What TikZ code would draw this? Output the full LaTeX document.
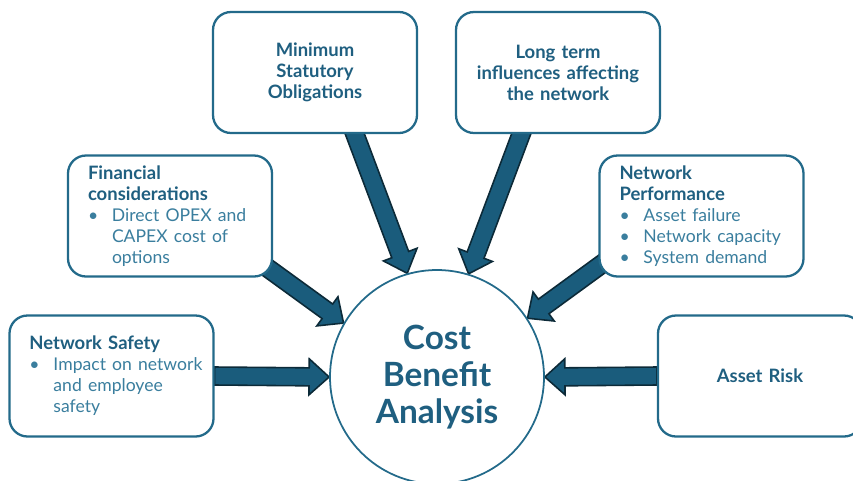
\documentclass[tikz,border=0pt]{standalone}
\usepackage{fontspec}
\setmainfont{Lato}
\usepackage{tikz}
\usetikzlibrary{positioning,calc,backgrounds}

\definecolor{boxline}{HTML}{236A8A}
\definecolor{headtext}{HTML}{1F5F80}
\definecolor{itemtext}{HTML}{3A7E9E}
\definecolor{arrowfill}{HTML}{1A5C7C}
\definecolor{arrowline}{HTML}{0C2A38}

\tikzset{
    factor/.style={draw=boxline, line width=1.3pt, rounded corners=0.36cm, fill=white,
        minimum width=4.08cm, minimum height=2.42cm, inner xsep=0.4cm, inner ysep=0.15cm,
        text width=3.28cm, font=\fontsize{10.5}{12}\selectfont\bfseries, text=headtext},
    bigarrow/.style={fill=arrowfill, draw=arrowline, line width=0.9pt}
}

% bullet line and its indented continuation
\newcommand{\bul}[1]{\mbox{\mdseries\fontsize{10}{12}\selectfont\color{itemtext}\makebox[0.48cm][l]{\textbullet}#1}}
\newcommand{\cont}[1]{\mbox{\mdseries\fontsize{10}{12}\selectfont\color{itemtext}\hspace*{0.48cm}#1}}

% block arrow from #1 to #2
\newcommand{\fatarrow}[2]{%
    \coordinate (hb) at ($(#2)!0.4cm!(#1)$);
    \draw[bigarrow] ($(#1)!0.18cm!90:(#2)$) -- ($(hb)!0.18cm!90:(#2)$) -- ($(hb)!0.36cm!90:(#2)$)
        -- (#2) -- ($(hb)!0.36cm!-90:(#2)$) -- ($(hb)!0.18cm!-90:(#2)$) -- ($(#1)!0.18cm!-90:(#2)$) -- cycle;
}

\begin{document}
\begin{tikzpicture}
    \useasboundingbox (0,0) rectangle (17.06,9.6);

    % Centre
    \node[circle, draw=boxline, line width=1pt, fill=white, minimum size=4.28cm, align=center,
        text=headtext, font=\fontsize{19}{21}\selectfont\bfseries] (cba) at (8.74,2.06)
        {Cost\\Benefit\\Analysis};

    % Factors
    \node[factor, align=center] (min) at (6.30,8.15) {Minimum\\Statutory\\Obligations};
    \node[factor, align=center] (long) at (11.16,8.15) {Long term\\influences affecting\\the network};
    \node[factor, align=left] (fin) at (3.40,5.28) {Financial\\considerations\\
        \bul{Direct OPEX and}\\ \cont{CAPEX cost of}\\ \cont{options}};
    \node[factor, align=left] (perf) at (14.03,5.28) {Network\\Performance\\
        \bul{Asset failure}\\ \bul{Network capacity}\\ \bul{System demand}};
    \node[factor, align=left] (safe) at (2.23,2.08) {Network Safety\\
        \bul{Impact on network}\\ \cont{and employee}\\ \cont{safety}};
    \node[factor, align=center] (risk) at (15.20,2.08) {Asset Risk};

    % Tails of the slanted arrows
    \coordinate (tmin) at ($(min.south)+(0.70,0.26)$);
    \coordinate (tlong) at ($(long.south)+(-0.64,0.26)$);
    \coordinate (tfin) at ($(fin.south east)+(-0.34,0.36)$);
    \coordinate (tperf) at ($(perf.south west)+(0.30,0.44)$);

    % Arrows
    \begin{scope}[on background layer]
        \foreach \a/\b in {tmin/cba.106, tlong/cba.73, tfin/cba.150, tperf/cba.33,
            safe.east/cba.west, risk.west/cba.east}
            \fatarrow{\a}{\b};
    \end{scope}
\end{tikzpicture}
\end{document}
